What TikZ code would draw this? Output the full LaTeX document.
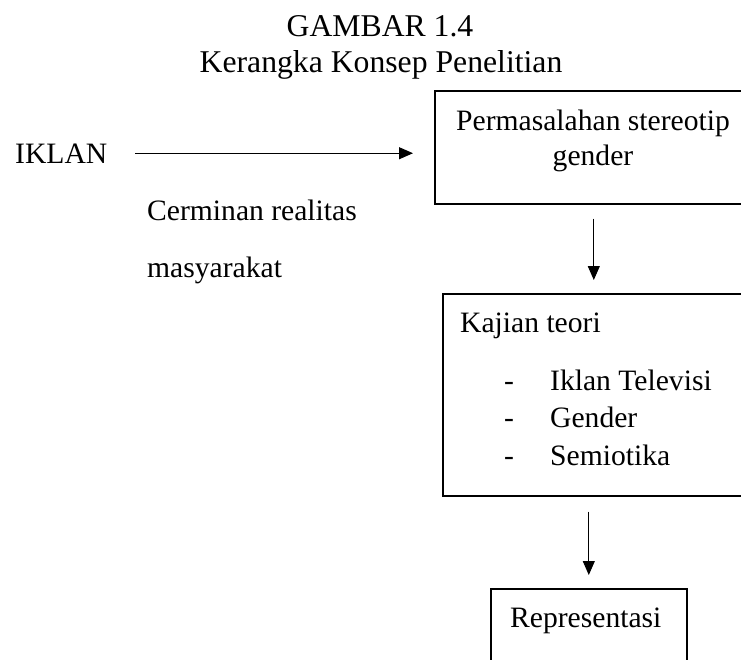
\documentclass[tikz,border=0pt]{standalone}
\usepackage{fontspec}
\setmainfont{Liberation Serif}
\usetikzlibrary{arrows.meta}
\begin{document}
\begin{tikzpicture}[x=1pt,y=-1pt,
  box/.style={draw=black, line width=1.6pt, anchor=north west, inner sep=0pt},
  txt/.style={font=\fontsize{29.6}{35}\selectfont, inner sep=0pt, anchor=base west},
  ctxt/.style={font=\fontsize{29.6}{35}\selectfont, inner sep=0pt, anchor=base},
  ttl/.style={font=\fontsize{31.7}{36}\selectfont, inner sep=0pt, anchor=base},
  conn/.style={line width=1pt, -{Triangle[length=14pt,width=12pt]}}]
\useasboundingbox (0,0) rectangle (741,659);
\clip (0,0) rectangle (741,659);
% title
\node[ttl] (t1) at (380,36) {GAMBAR 1.4};
\node[ttl] (t2) at (381,72) {Kerangka Konsep Penelitian};
% boxes
\node[box, minimum width=318pt, minimum height=113pt] (perm) at (434,90) {};
\node[box, minimum width=320pt, minimum height=202pt] (kaj) at (442,293) {};
\node[box, minimum width=196pt, minimum height=120pt] (rep) at (490,588) {};
% texts
\node[txt] (iklan) at (15,163) {IKLAN};
\node[txt] (cer) at (147,220.5) {Cerminan realitas};
\node[txt] (mas) at (147,277) {masyarakat};
\node[ctxt] (p1) at (593,130) {Permasalahan stereotip};
\node[ctxt] (p2) at (593,165) {gender};
\node[txt] (k0) at (460,332) {Kajian teori};
\node[txt] (d1) at (504,390) {-};
\node[txt] (k1) at (550,390) {Iklan Televisi};
\node[txt] (d2) at (504,427.5) {-};
\node[txt] (k2) at (550,427.5) {Gender};
\node[txt] (d3) at (504,465) {-};
\node[txt] (k3) at (550,465) {Semiotika};
\node[txt] (r1) at (510,627) {Representasi};
% connectors
\draw[conn, shorten <=28pt, shorten >=21pt] (iklan.east) -- (iklan.east -| perm.west);
\draw[conn, shorten <=14pt, shorten >=13pt] (perm.south) -- (kaj.north -| perm.south);
\draw[conn, shorten <=15pt, shorten >=13pt] (kaj.south -| rep.north) -- (rep.north);
\end{tikzpicture}
\end{document}
